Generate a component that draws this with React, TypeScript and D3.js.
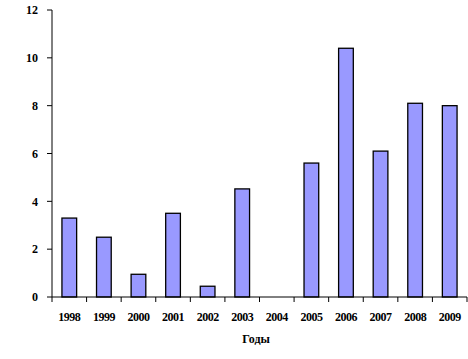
import React, { useEffect, useRef } from 'react';
import * as d3 from 'd3';

const YEARS = ['1998', '1999', '2000', '2001', '2002', '2003', '2004', '2005', '2006', '2007', '2008', '2009'];
const VALUES = [3.3, 2.5, 0.95, 3.5, 0.45, 4.52, 0, 5.6, 10.4, 6.1, 8.1, 8.0];
const Y_TICKS = [0, 2, 4, 6, 8, 10, 12];

const W = 468;
const H = 359;
const PLOT = { left: 52, right: 467, top: 10, bottom: 297 };
const FONT = "'Times New Roman', 'Liberation Serif', 'DejaVu Serif', serif";

const App = () => {
  const svgRef = useRef<SVGSVGElement | null>(null);

  useEffect(() => {
    if (!svgRef.current) return;
    const svg = d3.select(svgRef.current);
    svg.selectAll('*').remove();

    const x = d3.scaleBand<string>()
      .domain(YEARS)
      .range([PLOT.left, PLOT.right])
      .paddingInner(0.575)
      .paddingOuter(0.2875);

    const y = d3.scaleLinear()
      .domain([0, 12])
      .range([PLOT.bottom, PLOT.top]);

    // bars
    svg.append('g')
      .selectAll('rect')
      .data(YEARS.map((yr, i) => ({ yr, v: VALUES[i] })).filter(d => d.v > 0))
      .enter()
      .append('rect')
      .attr('x', d => x(d.yr)!)
      .attr('y', d => y(d.v))
      .attr('width', x.bandwidth())
      .attr('height', d => y(0) - y(d.v))
      .attr('fill', '#9999ff')
      .attr('stroke', '#000')
      .attr('stroke-width', 1.3);

    // y axis
    svg.append('line')
      .attr('x1', PLOT.left).attr('x2', PLOT.left)
      .attr('y1', y(12)).attr('y2', y(0))
      .attr('stroke', '#000').attr('stroke-width', 1);

    const yTicks = svg.append('g');
    yTicks.selectAll('line')
      .data(Y_TICKS)
      .enter()
      .append('line')
      .attr('x1', PLOT.left - 5).attr('x2', PLOT.left)
      .attr('y1', d => y(d)).attr('y2', d => y(d))
      .attr('stroke', '#000');
    yTicks.selectAll('text')
      .data(Y_TICKS)
      .enter()
      .append('text')
      .attr('x', 38)
      .attr('y', d => y(d))
      .attr('dy', '0.35em')
      .attr('text-anchor', 'end')
      .style('font-family', FONT)
      .attr('font-weight', 'bold')
      .attr('font-size', 12)
      .text(d => d);

    // x axis
    svg.append('line')
      .attr('x1', PLOT.left).attr('x2', PLOT.right)
      .attr('y1', y(0)).attr('y2', y(0))
      .attr('stroke', '#000').attr('stroke-width', 1);

    const step = x.step();
    const boundaries = d3.range(YEARS.length + 1).map(i => PLOT.left + i * step);
    svg.append('g')
      .selectAll('line')
      .data(boundaries)
      .enter()
      .append('line')
      .attr('x1', d => d).attr('x2', d => d)
      .attr('y1', y(0)).attr('y2', y(0) + 5)
      .attr('stroke', '#000');

    svg.append('g')
      .selectAll('text')
      .data(YEARS)
      .enter()
      .append('text')
      .attr('x', d => x(d)! + x.bandwidth() / 2)
      .attr('y', 321)
      .attr('text-anchor', 'middle')
      .style('font-family', FONT)
      .attr('font-weight', 'bold')
      .attr('font-size', 12)
      .attr('letter-spacing', -0.5)
      .text(d => d);

    svg.append('text')
      .attr('x', 256)
      .attr('y', 343)
      .attr('text-anchor', 'middle')
      .style('font-family', FONT)
      .attr('font-weight', 'bold')
      .attr('font-size', 12)
      .text('Годы');
  }, []);

  return (
    <svg
      ref={svgRef}
      width={W}
      height={H}
      style={{ position: 'absolute', left: 0, top: 0, background: '#fff' }}
    />
  );
};

export default App;
